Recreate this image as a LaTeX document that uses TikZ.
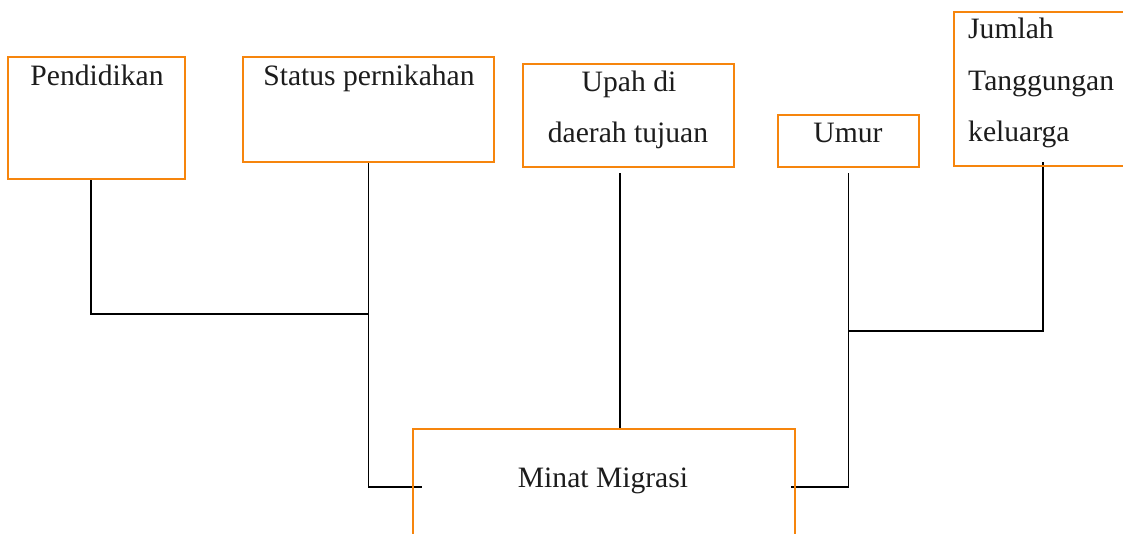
\documentclass[tikz,border=0pt]{standalone}
\usepackage{fontspec}
\setmainfont{Liberation Serif}
\usetikzlibrary{calc}
\definecolor{boxorange}{RGB}{246,133,13}
\definecolor{inkgray}{RGB}{28,28,28}
\tikzset{
  factor/.style={rectangle, inner sep=0pt, outer sep=0pt},
  frame/.style={draw=boxorange, line width=2.5pt},
  label text/.style={inner sep=0pt, text=inkgray, font=\fontsize{29.6}{36}\selectfont},
  link/.style={draw=black, line width=1.8pt},
}
\begin{document}
\begin{tikzpicture}[x=1pt, y=-1pt]
  \useasboundingbox (0,0) rectangle (1123,533);
  \fill[white] (0,0) rectangle (1123,533);
  \clip (0,0) rectangle (1123,533);

  % factor boxes (outlines are stroked after the connectors)
  \node[factor, minimum width=177pt, minimum height=122pt] (pend)  at (96.5,118) {};
  \node[factor, minimum width=251pt, minimum height=105pt] (stat)  at (368.5,109.5) {};
  \node[factor, minimum width=211pt, minimum height=103pt] (upah)  at (628.5,115.5) {};
  \node[factor, minimum width=141pt, minimum height=52pt]  (umur)  at (848.5,141) {};
  \node[factor, minimum width=186pt, minimum height=154pt] (juml)  at (1047,89) {};
  \node[factor, minimum width=382pt, minimum height=141pt] (minat) at (604,499.5) {};

  % junction and end points of the connectors
  \path (stat.south) ++(0,152) coordinate (jL);
  \path (umur.south) ++(0,164) coordinate (jR);
  \path (minat.west) ++(9,-12.5) coordinate (minL);
  \path (minat.east) ++(-4,-12.5) coordinate (minR);

  % connectors
  \draw[link] ($(pend.south)+(-5.5,0)$) |- (jL);
  \draw[link] (stat.south) |- (minL);
  \draw[link] ($(upah.south)+(-8.5,6)$) -- ($(minat.north)+(16,0)$);
  \draw[link] ($(umur.south)+(0,6)$) -- (jR);
  \draw[link] ($(juml.south)+(-4,-4)$) |- (jR);
  \draw[link] (jR) |- (minR);

  % box outlines
  \foreach \b in {pend,stat,upah,umur,juml,minat}
    \draw[frame] (\b.north west) rectangle (\b.south east);

  % texts
  \node[label text, anchor=base] (tpend) at (97,85) {Pendidikan};
  \node[label text, anchor=base] (tstat) at (369,85) {Status pernikahan};
  \node[label text, anchor=base] (tupah1) at (629,91) {Upah di};
  \node[label text, anchor=base] (tupah2) at (628,142) {daerah tujuan};
  \node[label text, anchor=base] (tumur) at (848,142) {Umur};
  \node[label text, anchor=base west] (tjml1) at (968,38) {Jumlah};
  \node[label text, anchor=base west] (tjml2) at (968,90) {Tanggungan};
  \node[label text, anchor=base west] (tjml3) at (968,141) {keluarga};
  \node[label text, anchor=base] (tminat) at (603,487) {Minat Migrasi};
\end{tikzpicture}
\end{document}
